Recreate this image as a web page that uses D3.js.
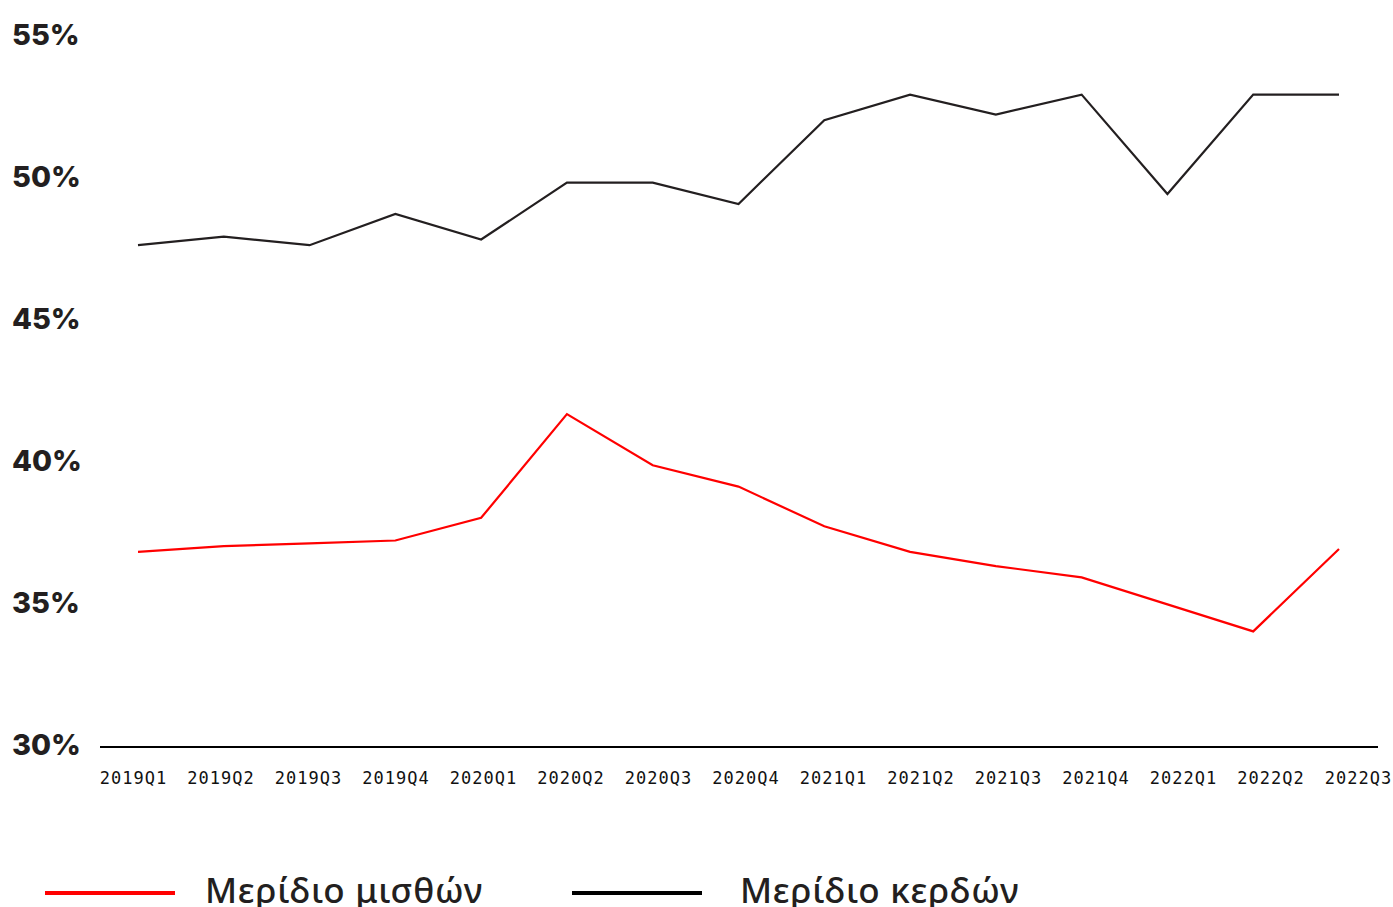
<!DOCTYPE html>
<html>
<head>
<meta charset="utf-8">
<script src="https://cdn.jsdelivr.net/npm/d3@7"></script>
<style>
  body { margin: 0; background: #fff; }
</style>
</head>
<body>
<svg width="1393" height="907"></svg>
<script>
// quarters + the two shares (%)
var quarters = ["2019Q1","2019Q2","2019Q3","2019Q4","2020Q1","2020Q2","2020Q3","2020Q4",
                "2021Q1","2021Q2","2021Q3","2021Q4","2022Q1","2022Q2","2022Q3"];
var wageShare = [36.8, 37.0, 37.1, 37.2, 38.0, 41.65, 39.85, 39.1, 37.7, 36.8, 36.3, 35.9, 34.95, 34.0, 36.9];
var profitShare = [47.6, 47.9, 47.6, 48.7, 47.8, 49.8, 49.8, 49.05, 52.0, 52.9, 52.2, 52.9, 49.4, 52.9, 52.9];
var yTicks = [30, 35, 40, 45, 50, 55];
var legendNames = ["Μερίδιο μισθών", "Μερίδιο κερδών"];

var svg = d3.select("svg");
var dark = "#231f20";

var x = d3.scalePoint().domain(quarters).range([138, 1339]);
var xLab = d3.scalePoint().domain(quarters).range([133, 1358]);
var y = d3.scaleLinear().domain([30, 55]).range([745, 35]);

// y labels
svg.selectAll(".ylab")
    .data(yTicks)
    .enter()
    .append("text")
    .attr("class", "ylab")
    .attr("x", 12)
    .attr("y", function(d) { return y(d) + 10; })
    .attr("font-family", "Inter, 'Liberation Sans', sans-serif")
    .attr("font-weight", 800)
    .attr("font-size", 29)
    .attr("fill", dark)
    .text(function(d) { return d + "%"; });

// base line
svg.append("line")
    .attr("x1", 100).attr("x2", 1378)
    .attr("y1", 747).attr("y2", 747)
    .attr("stroke", "#000")
    .attr("stroke-width", 2);

// x axis labels
var xAxis = d3.axisBottom(xLab).tickSize(0).tickPadding(0);
var gx = svg.append("g")
    .attr("transform", "translate(0,772)")
    .call(xAxis);
gx.select(".domain").remove();
gx.selectAll("text")
    .attr("dy", "0.71em")
    .attr("font-family", "'DejaVu Sans Mono', monospace")
    .attr("font-size", 17)
    .attr("letter-spacing", "1px")
    .attr("fill", "#111");

var line = d3.line()
    .x(function(d, i) { return x(quarters[i]); })
    .y(function(d) { return y(d); });

svg.append("path")
    .datum(profitShare)
    .attr("d", line)
    .attr("fill", "none")
    .attr("stroke", dark)
    .attr("stroke-width", 2.2);

svg.append("path")
    .datum(wageShare)
    .attr("d", line)
    .attr("fill", "none")
    .attr("stroke", "#ff0000")
    .attr("stroke-width", 2.2);

// legend
var legendColors = ["#ff0000", "#000"];
var lg = svg.selectAll(".leg")
    .data(legendNames)
    .enter()
    .append("g")
    .attr("class", "leg")
    .attr("transform", function(d, i) { return "translate(" + (45 + i * 527) + ",893)"; });

lg.append("line")
    .attr("x1", 0).attr("x2", 130)
    .attr("stroke", function(d, i) { return legendColors[i]; })
    .attr("stroke-width", 4);

lg.append("text")
    .attr("x", function(d, i) { return 160 + i * 8; })
    .attr("y", 10)
    .attr("font-family", "'Noto Sans', 'Liberation Sans', sans-serif")
    .attr("font-weight", 500)
    .attr("font-size", 35)
    .attr("letter-spacing", "0.7px")
    .attr("fill", dark)
    .text(function(d) { return d; });
</script>
</body>
</html>
